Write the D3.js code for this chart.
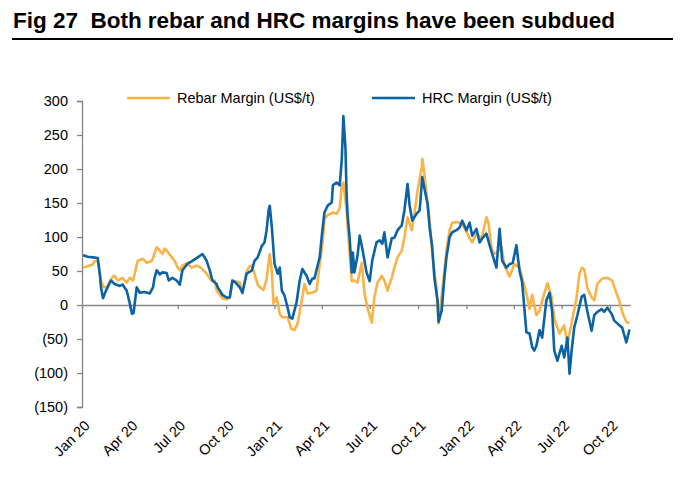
<!DOCTYPE html>
<html>
<head>
<meta charset="utf-8">
<script src="https://cdn.jsdelivr.net/npm/d3@7"></script>
<style>
  body { margin: 0; background: #fff; }
  svg { font-family: "Liberation Sans", Arial, sans-serif; }
</style>
</head>
<body>
<div id="chart"></div>
<script>
// chart data
const yTicks = [-150, -100, -50, 0, 50, 100, 150, 200, 250, 300];

const rebarMargin = [
  ["2020-01-03", 55], ["2020-01-12", 57], ["2020-01-22", 60], ["2020-01-25", 65], ["2020-01-31", 64],
  ["2020-02-06", 36], ["2020-02-11", 26], ["2020-02-17", 26], ["2020-02-27", 40], ["2020-03-03", 43],
  ["2020-03-09", 36], ["2020-03-18", 40], ["2020-03-26", 33], ["2020-04-01", 40], ["2020-04-07", 36],
  ["2020-04-16", 65], ["2020-04-26", 68], ["2020-05-03", 62], ["2020-05-13", 65], ["2020-05-22", 85],
  ["2020-05-28", 80], ["2020-06-02", 75], ["2020-06-06", 83], ["2020-06-12", 78], ["2020-06-20", 70],
  ["2020-06-25", 65], ["2020-07-01", 55], ["2020-07-05", 51], ["2020-07-10", 58], ["2020-07-18", 61],
  ["2020-07-28", 55], ["2020-08-06", 58], ["2020-08-14", 55], ["2020-08-25", 46], ["2020-09-03", 36],
  ["2020-09-09", 36], ["2020-09-13", 21], ["2020-09-24", 10], ["2020-10-02", 8], ["2020-10-08", 11],
  ["2020-10-13", 36], ["2020-10-27", 33], ["2020-11-01", 17], ["2020-11-09", 50], ["2020-11-15", 57],
  ["2020-11-19", 58], ["2020-11-24", 46], ["2020-11-30", 30], ["2020-12-06", 25], ["2020-12-11", 22],
  ["2020-12-17", 38], ["2020-12-23", 75], ["2020-12-27", 50], ["2020-12-30", 2], ["2021-01-05", 11],
  ["2021-01-11", -13], ["2021-01-16", -18], ["2021-01-26", -18], ["2021-02-02", -35], ["2021-02-08", -37],
  ["2021-02-14", -27], ["2021-02-22", 7], ["2021-02-27", 31], ["2021-03-05", 17], ["2021-03-13", 18],
  ["2021-03-22", 21], ["2021-03-28", 60], ["2021-04-03", 95], ["2021-04-06", 127], ["2021-04-12", 132],
  ["2021-04-22", 136], ["2021-04-29", 134], ["2021-05-05", 142], ["2021-05-09", 176], ["2021-05-12", 180],
  ["2021-05-18", 140], ["2021-05-24", 75], ["2021-05-28", 35], ["2021-06-02", 36], ["2021-06-08", 33],
  ["2021-06-16", 62], ["2021-06-21", 18], ["2021-06-27", -5], ["2021-07-05", -26], ["2021-07-10", 12],
  ["2021-07-16", 33], ["2021-07-24", 43], ["2021-07-29", 36], ["2021-08-04", 21], ["2021-08-12", 40],
  ["2021-08-17", 55], ["2021-08-23", 70], ["2021-08-31", 80], ["2021-09-05", 99], ["2021-09-11", 129],
  ["2021-09-19", 110], ["2021-09-24", 134], ["2021-09-30", 168], ["2021-10-08", 202], ["2021-10-09", 215],
  ["2021-10-13", 193], ["2021-10-17", 164], ["2021-10-23", 125], ["2021-10-28", 75], ["2021-11-05", 25],
  ["2021-11-09", -27], ["2021-11-16", 21], ["2021-11-24", 80], ["2021-11-30", 110], ["2021-12-05", 121],
  ["2021-12-13", 122], ["2021-12-19", 121], ["2021-12-24", 118], ["2022-01-01", 108], ["2022-01-07", 98],
  ["2022-01-12", 92], ["2022-01-20", 105], ["2022-01-30", 98], ["2022-02-08", 129], ["2022-02-12", 120],
  ["2022-02-18", 82], ["2022-02-23", 75], ["2022-03-01", 78], ["2022-03-09", 85], ["2022-03-14", 58],
  ["2022-03-24", 42], ["2022-04-02", 60], ["2022-04-12", 55], ["2022-04-17", 40], ["2022-04-25", 17],
  ["2022-05-01", -6], ["2022-05-06", 15], ["2022-05-14", -15], ["2022-05-20", -8], ["2022-05-29", 17],
  ["2022-06-04", 32], ["2022-06-12", 12], ["2022-06-17", -20], ["2022-06-27", -42], ["2022-07-06", -30],
  ["2022-07-12", -58], ["2022-07-21", -22], ["2022-07-29", 9], ["2022-08-04", 47], ["2022-08-09", 55],
  ["2022-08-13", 52], ["2022-08-19", 25], ["2022-08-27", 11], ["2022-09-01", 7], ["2022-09-07", 31],
  ["2022-09-16", 39], ["2022-09-26", 40], ["2022-10-05", 36], ["2022-10-13", 18], ["2022-10-19", 5],
  ["2022-10-24", -10], ["2022-11-01", -25], ["2022-11-07", -27]
];

const hrcMargin = [
  ["2020-01-03", 73], ["2020-01-12", 71], ["2020-01-22", 70], ["2020-01-31", 69], ["2020-02-04", 45],
  ["2020-02-06", 26], ["2020-02-10", 10], ["2020-02-15", 20], ["2020-02-25", 36], ["2020-03-03", 31],
  ["2020-03-13", 28], ["2020-03-18", 30], ["2020-03-26", 21], ["2020-04-01", 2], ["2020-04-05", -13],
  ["2020-04-08", -12], ["2020-04-14", 26], ["2020-04-20", 18], ["2020-04-29", 19], ["2020-05-09", 17],
  ["2020-05-15", 26], ["2020-05-18", 40], ["2020-05-22", 51], ["2020-05-28", 45], ["2020-06-02", 48],
  ["2020-06-10", 47], ["2020-06-14", 36], ["2020-06-21", 40], ["2020-06-29", 36], ["2020-07-05", 30],
  ["2020-07-10", 51], ["2020-07-20", 61], ["2020-07-29", 65], ["2020-08-08", 70], ["2020-08-17", 75],
  ["2020-08-25", 65], ["2020-08-31", 51], ["2020-09-05", 36], ["2020-09-13", 31], ["2020-09-15", 26],
  ["2020-09-24", 15], ["2020-10-02", 11], ["2020-10-08", 11], ["2020-10-13", 36], ["2020-10-19", 33],
  ["2020-10-27", 26], ["2020-11-01", 18], ["2020-11-09", 46], ["2020-11-19", 51], ["2020-11-24", 65],
  ["2020-11-30", 70], ["2020-12-08", 87], ["2020-12-13", 92], ["2020-12-17", 110], ["2020-12-21", 140],
  ["2020-12-23", 146], ["2020-12-27", 114], ["2021-01-01", 61], ["2021-01-07", 46], ["2021-01-11", 55],
  ["2021-01-15", 21], ["2021-01-20", 14], ["2021-01-26", -4], ["2021-01-30", -18], ["2021-02-04", -20],
  ["2021-02-12", 4], ["2021-02-18", 36], ["2021-02-23", 53], ["2021-03-03", 43], ["2021-03-09", 31],
  ["2021-03-14", 39], ["2021-03-18", 39], ["2021-03-24", 58], ["2021-03-28", 70], ["2021-04-01", 102],
  ["2021-04-06", 136], ["2021-04-12", 146], ["2021-04-20", 151], ["2021-04-22", 176], ["2021-04-29", 180],
  ["2021-05-05", 176], ["2021-05-09", 215], ["2021-05-12", 278], ["2021-05-16", 230], ["2021-05-18", 165],
  ["2021-05-20", 132], ["2021-05-24", 98], ["2021-05-28", 48], ["2021-05-30", 77], ["2021-06-02", 48],
  ["2021-06-08", 73], ["2021-06-12", 102], ["2021-06-17", 83], ["2021-06-25", 48], ["2021-07-01", 35],
  ["2021-07-06", 66], ["2021-07-14", 92], ["2021-07-20", 95], ["2021-07-25", 90], ["2021-07-29", 107],
  ["2021-08-04", 70], ["2021-08-12", 98], ["2021-08-17", 99], ["2021-08-23", 110], ["2021-08-31", 117],
  ["2021-09-05", 139], ["2021-09-11", 178], ["2021-09-15", 146], ["2021-09-20", 124], ["2021-09-28", 134],
  ["2021-10-04", 139], ["2021-10-09", 188], ["2021-10-15", 164], ["2021-10-19", 149], ["2021-10-23", 114],
  ["2021-10-28", 85], ["2021-11-01", 40], ["2021-11-07", 7], ["2021-11-09", -25], ["2021-11-15", -8],
  ["2021-11-20", 40], ["2021-11-24", 70], ["2021-11-30", 100], ["2021-12-05", 107], ["2021-12-13", 110],
  ["2021-12-19", 114], ["2021-12-24", 124], ["2022-01-01", 110], ["2022-01-07", 121], ["2022-01-12", 102],
  ["2022-01-20", 112], ["2022-01-26", 92], ["2022-01-31", 98], ["2022-02-08", 105], ["2022-02-14", 88],
  ["2022-02-19", 75], ["2022-02-27", 55], ["2022-03-05", 112], ["2022-03-10", 65], ["2022-03-18", 55],
  ["2022-03-24", 60], ["2022-03-30", 62], ["2022-04-06", 88], ["2022-04-12", 50], ["2022-04-17", 33],
  ["2022-04-25", -40], ["2022-05-01", -42], ["2022-05-06", -62], ["2022-05-10", -67], ["2022-05-14", -60],
  ["2022-05-20", -37], ["2022-05-25", -48], ["2022-06-02", 7], ["2022-06-08", 18], ["2022-06-13", -10],
  ["2022-06-17", -67], ["2022-06-23", -82], ["2022-07-01", -60], ["2022-07-06", -77], ["2022-07-12", -48],
  ["2022-07-16", -101], ["2022-07-20", -67], ["2022-07-25", -33], ["2022-07-31", -15], ["2022-08-08", 12],
  ["2022-08-13", 15], ["2022-08-19", -10], ["2022-08-27", -38], ["2022-09-01", -15], ["2022-09-07", -10],
  ["2022-09-15", -6], ["2022-09-20", -10], ["2022-09-26", -4], ["2022-10-04", -13], ["2022-10-09", -23],
  ["2022-10-19", -30], ["2022-10-24", -33], ["2022-11-01", -55], ["2022-11-07", -36]
];

const seriesNames = ["Rebar Margin (US$/t)", "HRC Margin (US$/t)"];
const seriesColors = ["#F9B346", "#0C63A3"];

const W = 682, H = 481;
const margin = { top: 101, right: 52, bottom: 74, left: 82 };
const width = W - margin.left - margin.right,
  height = H - margin.top - margin.bottom;

const parse = d3.timeParse("%Y-%m-%d");

const svg = d3.select("#chart").append("svg")
  .attr("width", W)
  .attr("height", H);

// title and rule
svg.append("text")
  .attr("x", 13).attr("y", 28)
  .style("white-space", "pre")
  .attr("font-size", 21.5).attr("font-weight", "bold")
  .attr("textLength", 602).attr("lengthAdjust", "spacingAndGlyphs")
  .attr("fill", "#000")
  .text("Fig 27  Both rebar and HRC margins have been subdued");
svg.append("line")
  .attr("x1", 12).attr("x2", 673).attr("y1", 39).attr("y2", 39)
  .attr("stroke", "#000").attr("stroke-width", 2);

const g = svg.append("g").attr("transform", `translate(${margin.left},${margin.top})`);

const x = d3.scaleTime()
  .domain([parse("2020-01-01"), parse("2022-11-08")])
  .range([0, width]);
const y = d3.scaleLinear().domain([-150, 300]).range([height, 0]);

const fmt = (v) => (v < 0 ? `(${Math.abs(v)})` : `${v}`);

// y axis
const yAxis = g.append("g")
  .call(d3.axisLeft(y).tickValues(yTicks).tickFormat(fmt).tickSize(5).tickPadding(9));
yAxis.select(".domain").attr("stroke", "#858585").attr("stroke-width", 1.3);
yAxis.selectAll(".tick line").attr("stroke", "#858585").attr("stroke-width", 1.3);
yAxis.selectAll("text").attr("font-size", 14.5).attr("fill", "#000")
  .attr("font-family", "Liberation Sans, Arial, sans-serif");

// x axis along zero
const xTicks = d3.timeMonth.every(3).range(parse("2020-01-01"), parse("2022-11-01"));
const xAxis = g.append("g")
  .attr("transform", `translate(0,${y(0)})`)
  .call(d3.axisBottom(x).tickValues(xTicks).tickSize(4).tickSizeOuter(0).tickFormat(""));
xAxis.select(".domain").attr("stroke", "#858585").attr("stroke-width", 1.6);
xAxis.selectAll(".tick line").attr("stroke", "#858585").attr("stroke-width", 1.3);

// rotated date labels at the bottom
const fmtDate = d3.timeFormat("%b %y");
g.append("g").selectAll("text")
  .data(xTicks)
  .join("text")
  .attr("transform", (d) => `translate(${x(d) + 5},${height + 16}) rotate(-45)`)
  .attr("text-anchor", "end")
  .attr("dy", "0.35em")
  .attr("font-size", 14.5)
  .attr("fill", "#000")
  .text(fmtDate);

// lines
const line = d3.line()
  .x((d) => x(parse(d[0])))
  .y((d) => y(d[1]));

[rebarMargin, hrcMargin].forEach((data, i) => {
  g.append("path")
    .datum(data)
    .attr("fill", "none")
    .attr("stroke", seriesColors[i])
    .attr("stroke-width", 2.6)
    .attr("stroke-linejoin", "round")
    .attr("d", line);
});

// legend
const legendX = [45, 290];
const legend = g.append("g").attr("transform", "translate(0,-3)");
seriesNames.forEach((name, i) => {
  legend.append("line")
    .attr("x1", legendX[i]).attr("x2", legendX[i] + 43)
    .attr("y1", 0).attr("y2", 0)
    .attr("stroke", seriesColors[i]).attr("stroke-width", 2.6);
  legend.append("text")
    .attr("x", legendX[i] + 50).attr("y", 0).attr("dy", "0.35em")
    .attr("font-size", 14.5).attr("fill", "#000")
    .text(name);
});
</script>
</body>
</html>
